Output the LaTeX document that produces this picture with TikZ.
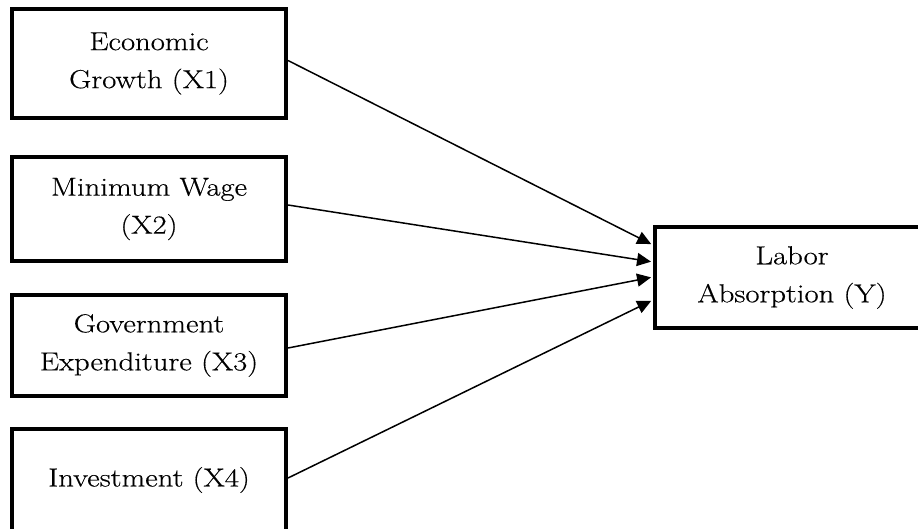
\documentclass[tikz,border=0pt]{standalone}
\usepackage{fontspec}
\setmainfont{Latin Modern Roman}[FakeStretch=1.18, FakeBold=0.4]
\usetikzlibrary{arrows.meta}
\begin{document}
\begin{tikzpicture}[x=1pt,y=-1pt,
  box/.style={draw=black, line width=4pt, fill=white, minimum width=274pt,
    align=center, inner sep=0pt, font=\fontsize{26}{38}\selectfont},
  link/.style={line width=1.5pt, shorten >=2pt, -{Triangle[length=14pt,width=13pt]}}]
\useasboundingbox (0,0) rectangle (918,529);
\node[box, minimum height=109pt] (b1) at (149,63.5) {Economic\\Growth (X1)};
\node[box, minimum height=104pt] (b2) at (149,209) {Minimum Wage\\(X2)};
\node[box, minimum height=101pt] (b3) at (149,345.5) {Government\\Expenditure (X3)};
\node[box, minimum height=102pt] (b4) at (149,480) {Investment (X4)};
\node[box, minimum height=101pt] (y) at (792,277.5) {Labor\\Absorption (Y)};
\draw[link] ([yshift=3pt]b1.east) -- ([yshift=32.5pt]y.west);
\draw[link] ([yshift=4pt]b2.east) -- ([yshift=15.5pt]y.west);
\draw[link] ([yshift=-2.5pt]b3.east) -- ([yshift=0.5pt]y.west);
\draw[link] ([yshift=2pt]b4.east) -- ([yshift=-22.5pt]y.west);
\end{tikzpicture}
\end{document}
